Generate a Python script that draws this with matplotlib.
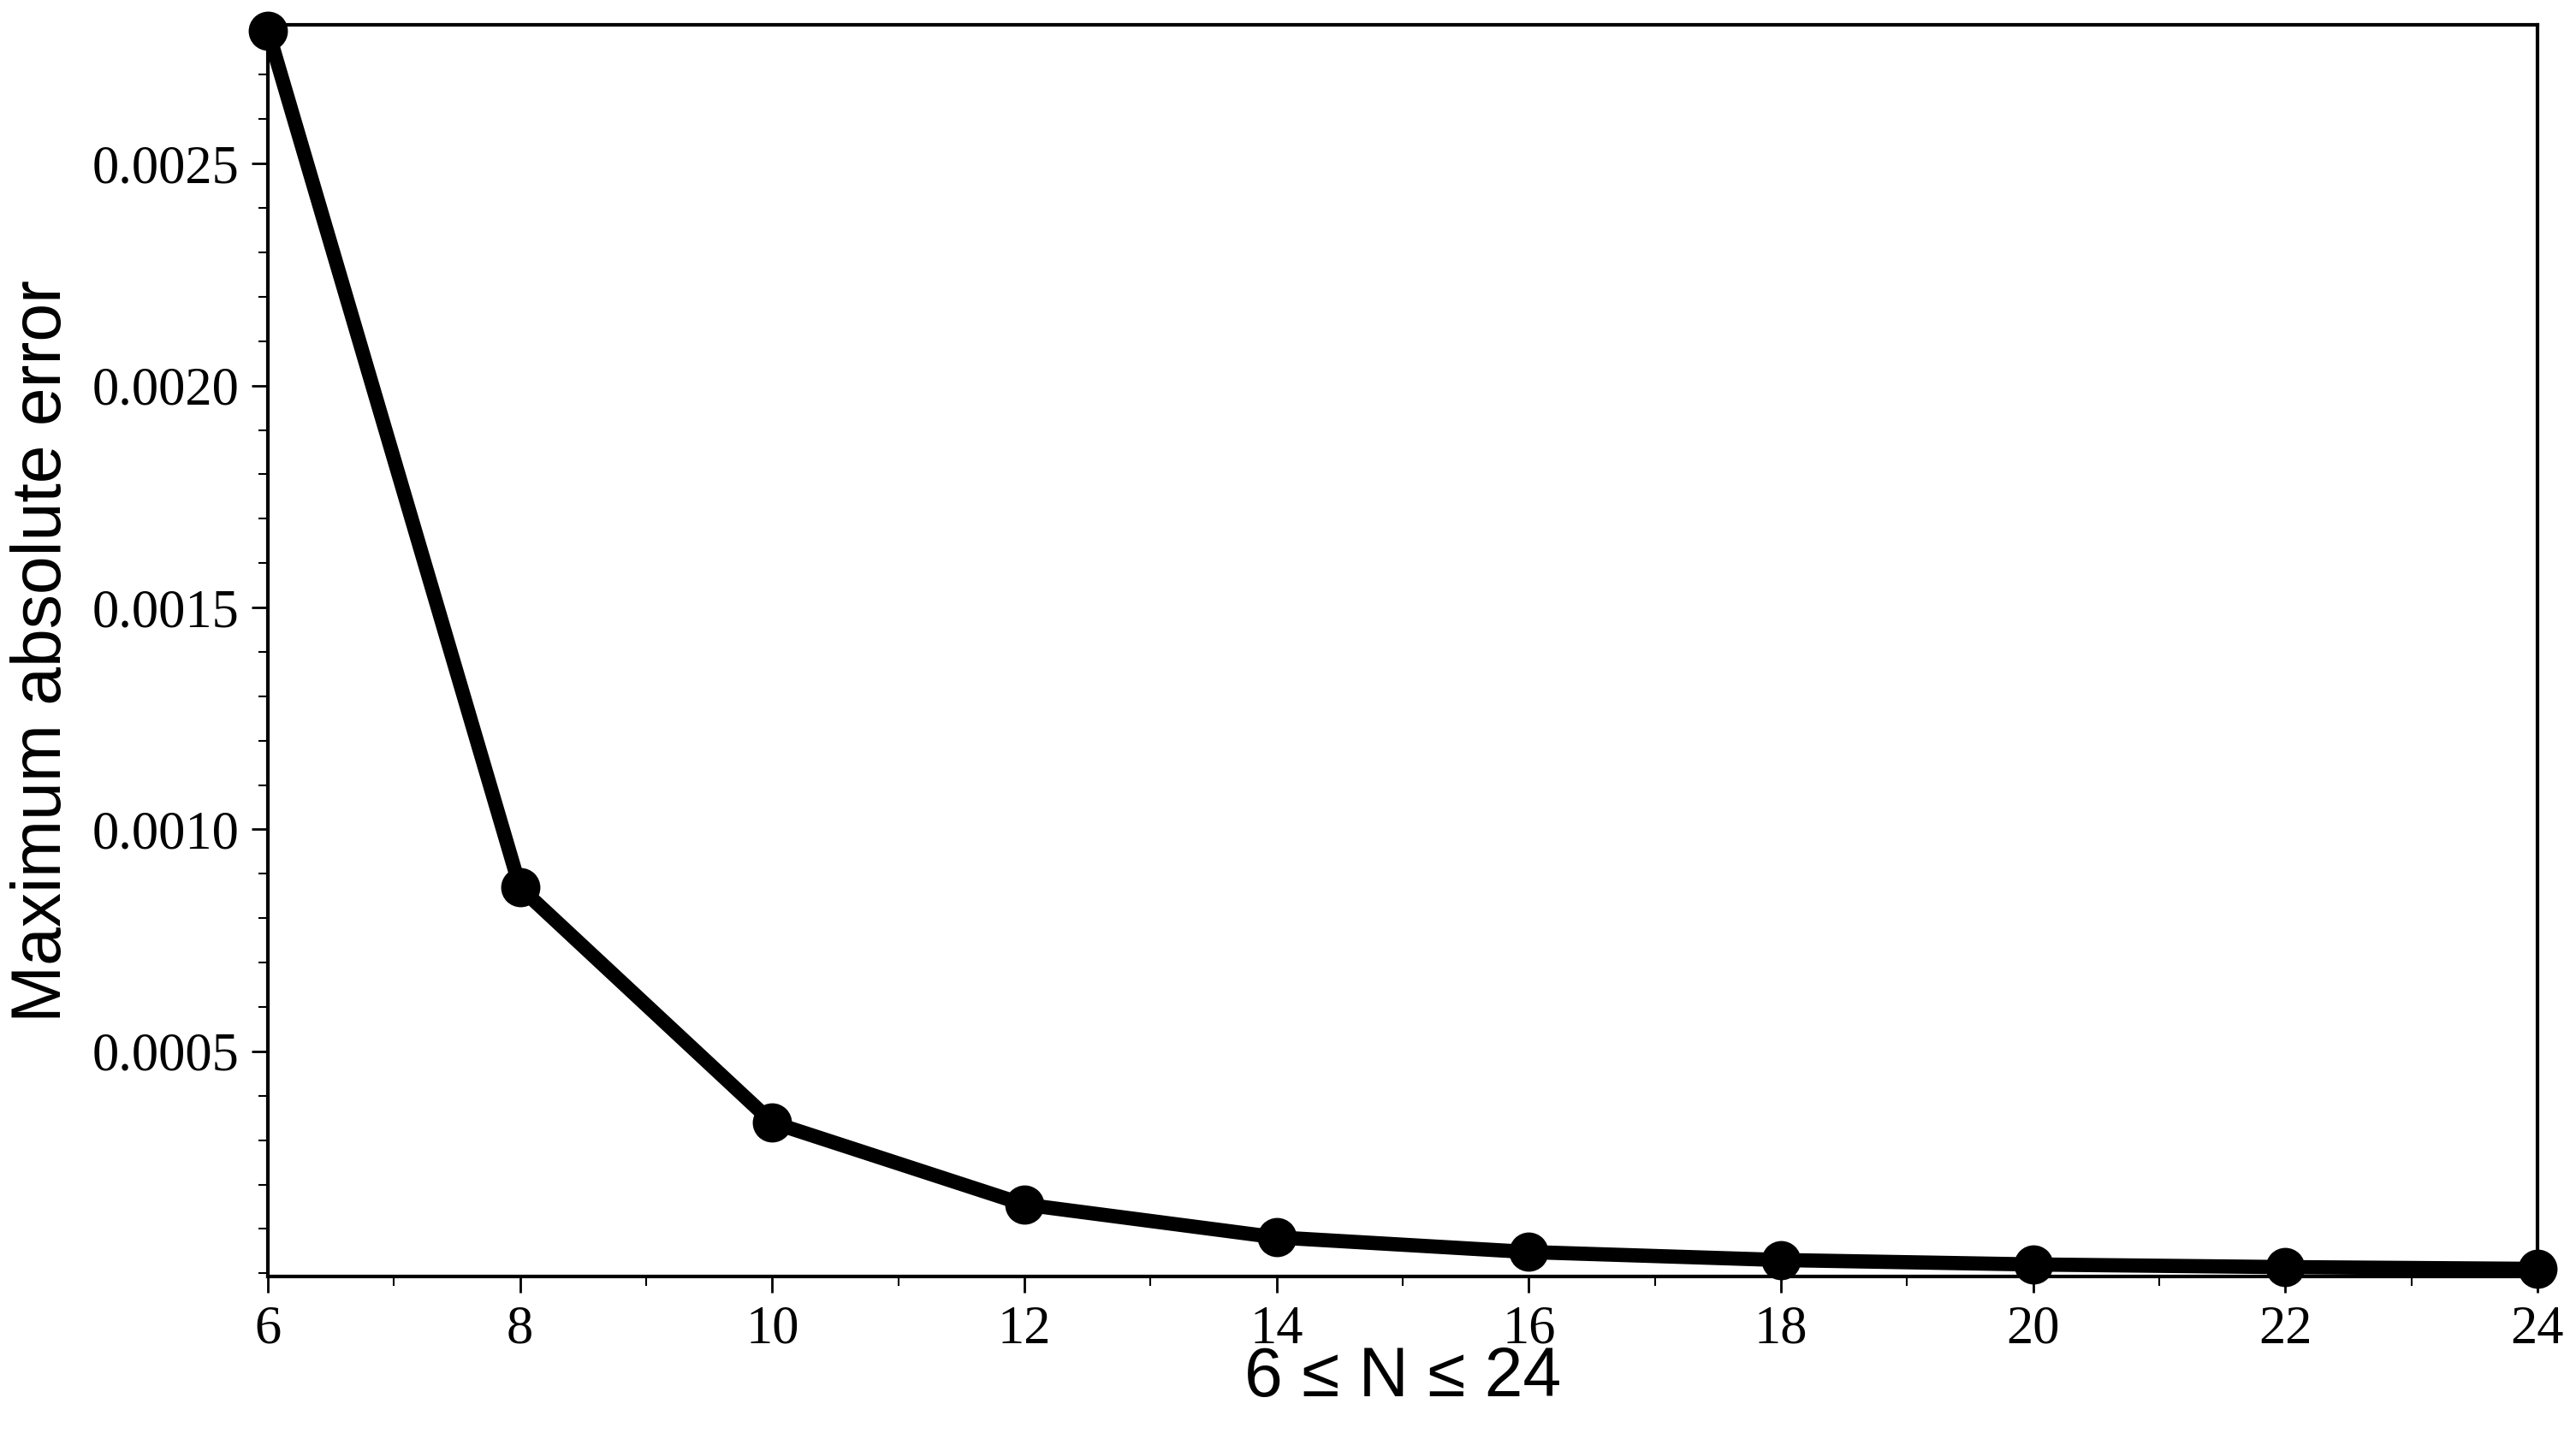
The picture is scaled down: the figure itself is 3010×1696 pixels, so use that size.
import matplotlib
matplotlib.use("Agg")
import matplotlib.pyplot as plt
from matplotlib.ticker import MultipleLocator

N = [6, 8, 10, 12, 14, 16, 18, 20, 22, 24]
err = [0.0028, 0.000869, 0.00034, 0.000155, 0.000081, 0.000048, 0.00003, 0.00002, 0.000014, 0.00001]
yticks = [0.0005, 0.0010, 0.0015, 0.0020, 0.0025]
ytick_labels = ["0.0005", "0.0010", "0.0015", "0.0020", "0.0025"]

fig = plt.figure(figsize=(30.10, 16.96), dpi=100)
ax = fig.add_axes([0.104, 0.12, 0.881, 0.863])
ax.plot(N, err, color="black", lw=12, marker="o", ms=32, solid_joinstyle="round", clip_on=False, zorder=5)
ax.set_xlim(6, 24)
ax.set_ylim(-0.000008, 0.002813)
ax.set_xticks(N)
ax.set_yticks(yticks)
ax.set_yticklabels(ytick_labels)
ax.xaxis.set_minor_locator(MultipleLocator(1))
ax.yaxis.set_minor_locator(MultipleLocator(0.0001))
for lab in ax.get_xticklabels() + ax.get_yticklabels():
    lab.set_fontfamily("Liberation Serif")
    lab.set_fontsize(45)
ax.tick_params(which="major", length=14, width=2, direction="out", pad=10)
ax.tick_params(which="minor", length=8, width=1.5, direction="out")
for s in ax.spines.values():
    s.set_linewidth(3)
ax.set_xlabel("6 ≤ N ≤ 24", fontfamily="Liberation Sans", fontsize=58, labelpad=-8)
ax.set_ylabel("Maximum absolute error", fontfamily="Liberation Sans", fontsize=58, labelpad=14)
fig.savefig("out.png", dpi=100)
